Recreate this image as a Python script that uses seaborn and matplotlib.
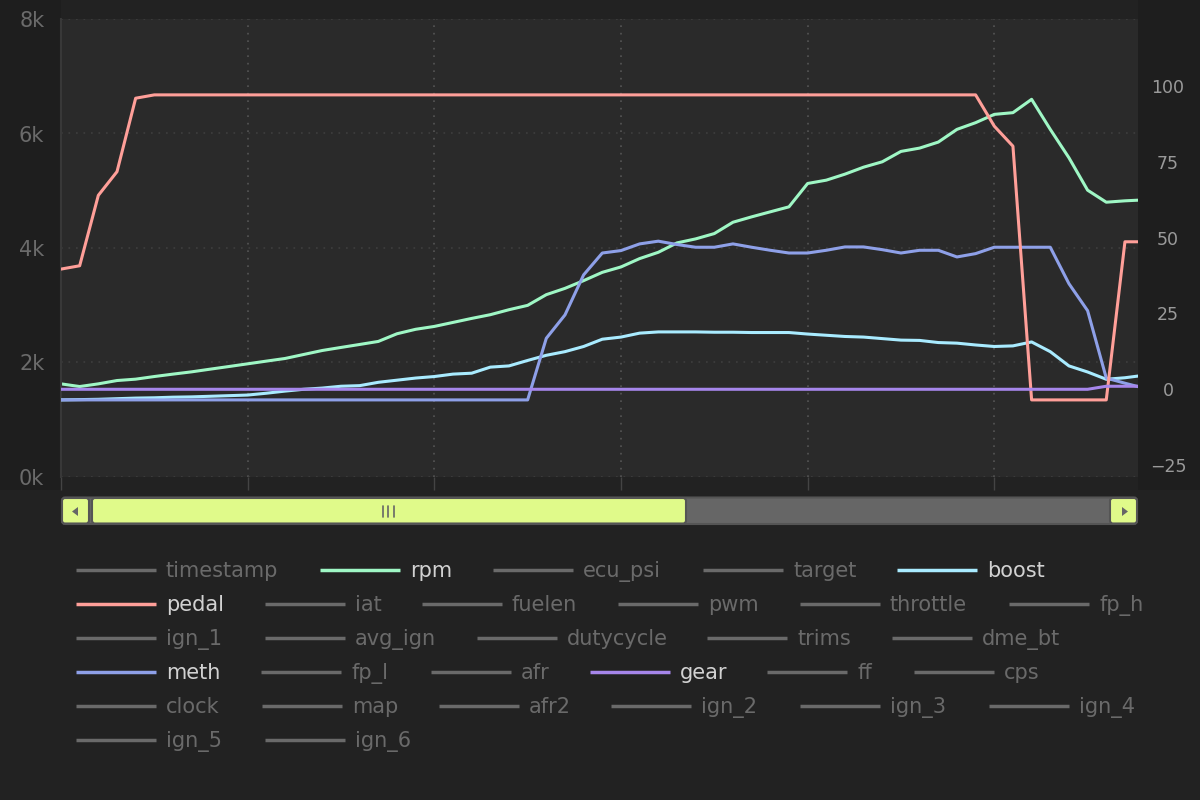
import matplotlib
matplotlib.use("Agg")
import matplotlib.pyplot as plt
import seaborn as sns
import numpy as np
import pandas as pd
from matplotlib.patches import FancyBboxPatch, Rectangle, Polygon
from matplotlib.ticker import FuncFormatter, FixedLocator

# ---------------- data ----------------
sample = list(range(59))
rpm = [1627, 1580, 1627, 1685, 1709, 1755, 1797, 1837, 1884, 1930,
       1977, 2024, 2070, 2140, 2210, 2263, 2315, 2368, 2502, 2580,
       2630, 2700, 2770, 2835, 2922, 2998, 3185, 3295, 3430, 3575,
       3669, 3815, 3925, 4089, 4159, 4252, 4450, 4544, 4632, 4719,
       5127, 5185, 5290, 5412, 5506, 5687, 5745, 5850, 6072, 6189,
       6334, 6364, 6597, 6072, 5576, 5010, 4800, 4824, 4840]
pedal = [39.6, 40.7, 63.9, 71.7, 95.9] + [97.0] * 45 + [86.7, 80.1] + [-3.5] * 5 + [48.6, 48.6]
boost = [-3.5, -3.4, -3.3, -3.1, -2.9, -2.8, -2.6, -2.5, -2.3, -2.1,
         -1.9, -1.3, -0.6, 0.0, 0.4, 1.0, 1.2, 2.3, 3.0, 3.7,
         4.2, 5.0, 5.3, 7.3, 7.7, 9.5, 11.2, 12.4, 14.1, 16.5,
         17.2, 18.5, 18.9, 18.9, 18.9, 18.8, 18.8, 18.7, 18.7, 18.7,
         18.2, 17.8, 17.4, 17.2, 16.7, 16.2, 16.1, 15.4, 15.2, 14.6,
         14.1, 14.3, 15.6, 12.4, 7.7, 5.7, 3.3, 3.8, 4.6]
meth = [-3.5] * 26 + [16.8, 24.5, 37.7, 44.9,
        45.7, 47.9, 48.8, 47.7, 46.8, 46.8, 47.9, 46.8, 45.8, 44.9,
        44.9, 45.8, 46.9, 46.9, 46.0, 44.9, 45.8, 45.8, 43.6, 44.7,
        46.8, 46.8, 46.8, 46.8, 34.8, 25.9, 3.7, 2.0, 0.4]
gear = [0] * 56 + [1, 1, 1]

left_ticks = [0, 2000, 4000, 6000, 8000]
right_ticks = [-25, 0, 25, 50, 75, 100]
x_ticks = [0, 10, 20, 30, 40, 50]

legend_rows = [
    ["timestamp", "rpm", "ecu_psi", "target", "boost"],
    ["pedal", "iat", "fuelen", "pwm", "throttle", "fp_h"],
    ["ign_1", "avg_ign", "dutycycle", "trims", "dme_bt"],
    ["meth", "fp_l", "afr", "gear", "ff", "cps"],
    ["clock", "map", "afr2", "ign_2", "ign_3", "ign_4"],
    ["ign_5", "ign_6"],
]

# ---------------- styles ----------------
colors = {"rpm": "#9ff7c5", "pedal": "#ff9f99", "boost": "#a9ebff",
          "meth": "#8ea0e8", "gear": "#a686eb"}
legend_x = [
    [76, 320, 493, 703, 897],
    [76, 265, 422, 618, 800, 1009],
    [76, 265, 477, 707, 892],
    [76, 261, 431, 590, 767, 914],
    [76, 262, 439, 611, 800, 989],
    [76, 265],
]

sns.set_theme(style="dark")
plt.rcParams['font.family'] = ['DejaVu Sans']

W, H = 1200, 800
L, R, T, B = 61, 1138, 19, 477
fig = plt.figure(figsize=(12, 8), dpi=100, facecolor='#222222')

# decoration layer (pixel coords)
deco = fig.add_axes([0, 0, 1, 1], zorder=-1)
deco.set_xlim(0, W)
deco.set_ylim(H, 0)
deco.axis('off')
deco.patch.set_visible(False)
deco.add_patch(Rectangle((0, 0), L, 490, color='#1e1e1e', lw=0))
deco.add_patch(Rectangle((R, 0), W - R, 490, color='#1e1e1e', lw=0))

ax = fig.add_axes([L / W, 1 - B / H, (R - L) / W, (B - T) / H])
ax.set_facecolor('#2a2a2a')
ax2 = ax.twinx()
ax2.patch.set_visible(False)

lw = 2.2
sns.lineplot(x=sample, y=rpm, ax=ax, color=colors["rpm"], linewidth=lw, legend=False)
sns.lineplot(x=sample, y=boost, ax=ax2, color=colors["boost"], linewidth=lw, legend=False)
sns.lineplot(x=sample, y=meth, ax=ax2, color=colors["meth"], linewidth=lw, legend=False)
sns.lineplot(x=sample, y=pedal, ax=ax2, color=colors["pedal"], linewidth=lw, legend=False)
sns.lineplot(x=sample, y=gear, ax=ax2, color=colors["gear"], linewidth=lw, legend=False)

ax.set_xlim(0, 57.7)
ax.set_ylim(0, 8000)
ax2.set_ylim(-28.9, 122.0)
ax.set_xlabel("")
ax.set_ylabel("")
ax2.set_ylabel("")

ax.xaxis.set_major_locator(FixedLocator(x_ticks))
ax.yaxis.set_major_locator(FixedLocator(left_ticks))
ax.yaxis.set_major_formatter(FuncFormatter(lambda v, p: f"{int(round(v / 1000))}k"))
ax2.yaxis.set_major_locator(FixedLocator(right_ticks))
ax2.yaxis.set_major_formatter(FuncFormatter(lambda v, p: f"{int(v)}".replace('-', '\u2212')))

ax.tick_params(axis='x', bottom=True, length=9, width=1, color='#444444',
               labelbottom=False, direction='out')
ax.tick_params(axis='y', left=False, length=0, pad=12, labelsize=15, labelcolor='#6b6b6b')
ax2.tick_params(axis='y', right=False, length=0, pad=21.6, labelsize=12.5, labelcolor='#9a9a9a')
for lbl in ax2.get_yticklabels():
    lbl.set_horizontalalignment('center')

ax.set_axisbelow(True)
ax.grid(False)
ax.xaxis.grid(True, color='#555555', linestyle=(0, (1, 3.5)), linewidth=1.2)
ax.yaxis.grid(True, color='#3e3e3e', linestyle=(0, (1, 3.5)), linewidth=1.2)
ax2.grid(False)

for a in (ax, ax2):
    for s in a.spines.values():
        s.set_visible(False)
ax.spines['left'].set_visible(True)
ax.spines['left'].set_color('#383838')
ax.spines['left'].set_linewidth(1.5)

# ---------------- legend ----------------
for r, (names, xs) in enumerate(zip(legend_rows, legend_x)):
    y = 570 + 34 * r
    for name, x0 in zip(names, xs):
        active = name in colors
        lc = colors.get(name, '#6a6a6a')
        tc = '#d2d2d2' if active else '#6a6a6a'
        deco.plot([x0, x0 + 80], [y, y], color=lc, lw=2.5, solid_capstyle='butt')
        deco.text(x0 + 90, y + 7, name, ha='left', va='baseline', fontsize=15, color=tc)

# ---------------- range selector ----------------
yel = '#e0fa8a'
deco.add_patch(FancyBboxPatch((62, 497.5), 1075, 26.5, boxstyle="round,pad=0,rounding_size=3",
                              fc='#666666', ec='#555555', lw=1.5))
deco.add_patch(FancyBboxPatch((92, 498), 594, 25.5, boxstyle="round,pad=0,rounding_size=3",
                              fc=yel, ec='#555555', lw=1.5))
deco.add_patch(FancyBboxPatch((62, 498), 27, 25.5, boxstyle="round,pad=0,rounding_size=3",
                              fc=yel, ec='#555555', lw=1.5))
deco.add_patch(FancyBboxPatch((1110, 498), 27, 25.5, boxstyle="round,pad=0,rounding_size=3",
                              fc=yel, ec='#555555', lw=1.5))
deco.add_patch(Polygon([(72, 511.5), (78, 507), (78, 516)], closed=True, fc='#666666', ec='none'))
deco.add_patch(Polygon([(1128, 511.5), (1122, 507), (1122, 516)], closed=True, fc='#666666', ec='none'))
for gx in (382.5, 388, 393.5):
    deco.plot([gx, gx], [506, 517], color='#666666', lw=1.2)

fig.savefig("out.png", dpi=100, facecolor=fig.get_facecolor())
